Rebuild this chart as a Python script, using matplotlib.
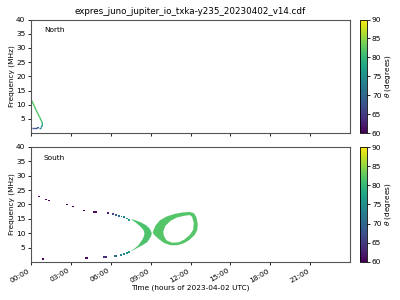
import matplotlib
matplotlib.use("Agg")
import matplotlib.pyplot as plt
from matplotlib.collections import LineCollection
from matplotlib.colors import Normalize
from matplotlib.cm import ScalarMappable

title = "expres_juno_jupiter_io_txka-y235_20230402_v14.cdf"
hour_ticks = [0, 3, 6, 9, 12, 15, 18, 21]
hour_labels = ["00:00", "03:00", "06:00", "09:00", "12:00", "15:00", "18:00", "21:00"]
freq_ticks = [5, 10, 15, 20, 25, 30, 35, 40]
theta_ticks = [60, 65, 70, 75, 80, 85, 90]

# North: traced emission line (hours, MHz, theta deg)
north_t = [0.05, 0.25, 0.45, 0.65, 0.82, 0.86, 0.85, 0.75, 0.6, 0.45, 0.25, 0.05]
north_f = [11.5, 9.5, 7.5, 5.6, 4.0, 3.3, 2.6, 2.0, 2.0, 1.9, 1.9, 1.9]
north_theta = [82, 82, 82, 81, 79, 77, 75, 73, 70, 67, 67]

# South: sparse dots of the upper and lower branches
dots_t = [0.62, 1.15, 1.38, 2.68, 3.18, 4.0, 4.7, 4.8, 4.9, 5.8, 6.15, 6.4, 6.6,
          6.8, 7.0, 7.2, 7.4,
          0.93, 4.15, 4.25, 5.45, 5.55, 5.65, 6.3, 6.4, 6.75, 7.0, 7.2, 7.4]
dots_f = [22.8, 21.7, 21.4, 20.0, 19.3, 17.9, 17.3, 17.3, 17.3, 17.0, 16.7, 16.4, 16.1,
          15.8, 15.5, 15.1, 14.7,
          1.0, 1.4, 1.4, 1.7, 1.7, 1.7, 2.0, 2.1, 2.5, 2.8, 3.1, 3.5]
dots_theta = [60, 60, 60, 60, 60, 60, 61, 61, 61, 62, 66, 69, 71,
              73, 74, 75, 76,
              60, 61, 61, 64, 64, 64, 70, 71, 73, 74, 75, 77]

# South: crescent near 09:00
cres_f = [4.0, 5.0, 6.0, 7.0, 8.0, 9.0, 10.0, 11.0, 12.0, 13.0, 14.0, 15.0]
cres_left = [7.5, 7.8, 8.05, 8.2, 8.35, 8.45, 8.5, 8.45, 8.3, 8.07, 7.8, 7.5]
cres_right = [7.55, 7.95, 8.35, 8.7, 8.85, 8.98, 9.05, 8.98, 8.85, 8.6, 8.2, 7.6]
cres_theta = 81.5

# South: loop between 09:00 and 12:30
loop_out_t = [9.15, 9.35, 9.7, 10.2, 10.8, 11.4, 11.9, 12.25, 12.45, 12.55, 12.5,
              12.3, 11.9, 11.5, 11.0, 10.5, 10.0, 9.6, 9.3]
loop_out_f = [10.2, 12.5, 14.5, 15.8, 16.7, 17.2, 17.4, 17.0, 15.5, 13.0, 11.0,
              9.3, 7.6, 6.5, 5.8, 5.8, 6.6, 8.0, 9.3]
loop_in_t = [9.95, 10.1, 10.5, 11.0, 11.6, 11.95, 12.12, 12.25, 12.2, 11.95, 11.55,
             11.1, 10.6, 10.2, 10.0]
loop_in_f = [10.5, 12.5, 14.3, 15.5, 16.1, 16.3, 15.7, 13.5, 11.2, 9.4, 7.8,
             6.8, 6.7, 7.5, 9.0]
loop_theta = 82

cmap = plt.get_cmap("viridis")
norm = Normalize(vmin=60, vmax=90)
fs = 5.3

fig = plt.figure(figsize=(4, 3), dpi=100)
ax1 = fig.add_axes([0.0775, 0.556, 0.7975, 0.379])
ax2 = fig.add_axes([0.0775, 0.127, 0.7975, 0.383])
cax1 = fig.add_axes([0.9, 0.556, 0.0175, 0.379])
cax2 = fig.add_axes([0.9, 0.127, 0.0175, 0.383])

# north
pts = list(zip(north_t, north_f))
segs = [[pts[i], pts[i + 1]] for i in range(len(pts) - 1)]
lc = LineCollection(segs, cmap=cmap, norm=norm, linewidths=1.0)
lc.set_array(north_theta)
ax1.add_collection(lc)

# south
ax2.scatter(dots_t, dots_f, c=dots_theta, cmap=cmap, norm=norm, marker="s", s=1.6, linewidths=0)
ax2.fill_betweenx(cres_f, cres_left, cres_right, color=cmap(norm(cres_theta)), lw=0)
ax2.fill(loop_out_t, loop_out_f, color=cmap(norm(loop_theta)), lw=0)
ax2.fill(loop_in_t, loop_in_f, color="white", lw=0)

for ax, name in [(ax1, "North"), (ax2, "South")]:
    ax.set_xlim(0, 24)
    ax.set_ylim(0, 40)
    ax.set_xticks(hour_ticks)
    ax.set_yticks(freq_ticks)
    ax.set_ylabel("Frequency (MHz)", fontsize=fs, labelpad=1)
    ax.tick_params(labelsize=fs, length=2.5, width=0.6, pad=1.5)
    for sp in ax.spines.values():
        sp.set_linewidth(0.8)
        sp.set_color("#555555")
    ax.text(0.04, 0.93, name, transform=ax.transAxes, fontsize=fs, va="top")

ax1.set_xticklabels([])
ax1.set_title(title, fontsize=6.3, pad=4)
ax2.set_xticklabels(hour_labels, rotation=30, ha="right")
ax2.set_xlabel("Time (hours of 2023-04-02 UTC)", fontsize=fs, labelpad=1)

for cax in (cax1, cax2):
    cb = fig.colorbar(ScalarMappable(norm=norm, cmap=cmap), cax=cax)
    cb.set_ticks(theta_ticks)
    cb.ax.tick_params(labelsize=fs, length=2, width=0.6, pad=1.5)
    cb.outline.set_linewidth(0.6)
    cb.set_label(r"$\theta$ (degrees)", fontsize=fs, labelpad=1)

fig.savefig("out.png", dpi=100)
